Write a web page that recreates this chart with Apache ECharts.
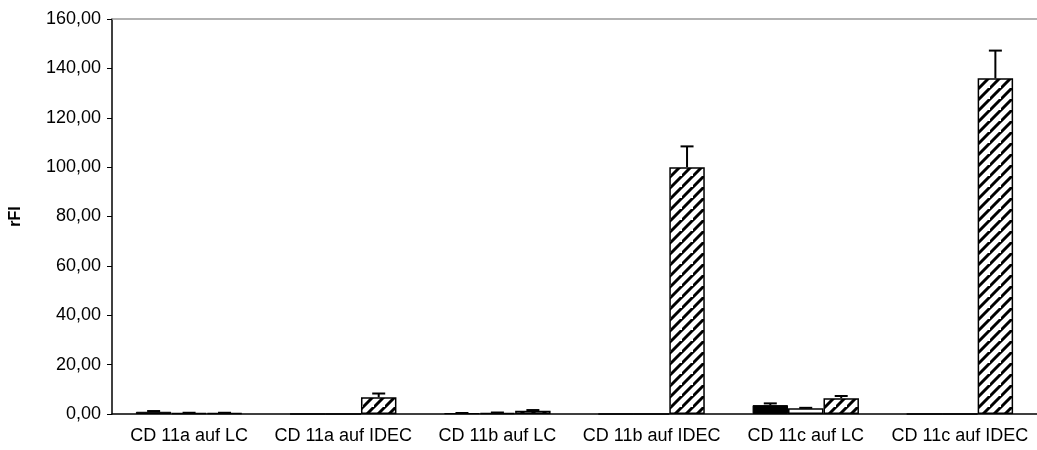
<!DOCTYPE html>
<html><head><meta charset="utf-8">
<script src="https://cdn.jsdelivr.net/npm/echarts@6/dist/echarts.min.js"></script>
<style>html,body{margin:0;padding:0;background:#fff}#c{width:1037px;height:450px}</style>
</head><body><div id="c"></div>
<script>
var categories = ['CD 11a auf LC','CD 11a auf IDEC','CD 11b auf LC','CD 11b auf IDEC','CD 11c auf LC','CD 11c auf IDEC'];
var blackVals = [0.9, 0, 0.3, 0, 3.6, 0];
var whiteVals = [0.4, 0, 0.5, 0, 2.3, 0];
var hatchVals = [0.4, 6.8, 1.3, 100, 6.4, 136];
var blackErr = [0.3, 0, 0.1, 0, 0.7, 0];
var whiteErr = [0.1, 0, 0.1, 0, 0.2, 0];
var hatchErr = [0.1, 1.5, 0.3, 8.4, 0.9, 11.2];
var yTicks = {min: 0, max: 160, interval: 20};

var tile = document.createElement('canvas');
var s = 11;
tile.width = s; tile.height = s;
var g = tile.getContext('2d');
g.fillStyle = '#fff'; g.fillRect(0,0,s,s);
g.strokeStyle = '#000'; g.lineWidth = 3;
g.beginPath();
g.moveTo(-2, s+2); g.lineTo(s+2, -2);
g.moveTo(-2-s, s+2); g.lineTo(2, -2);
g.moveTo(s-2, 2*s+2); g.lineTo(2*s+2, s-2);
g.stroke();

var BW = 0.23;
var fmt = function(v){ return v.toFixed(2).replace('.', ','); };

function errSeries(vals, errs, idx) {
  return {
    type: 'custom',
    xAxisIndex: 0,
    z: 5,
    data: vals.map(function(v,i){ return [i, v, errs[i]]; }),
    renderItem: function(params, api) {
      var v = api.value(1), e = api.value(2);
      if (!v) return null;
      var bw = api.size([1,0])[0] * BW;
      var p = api.coord([api.value(0), v]);
      var q = api.coord([api.value(0), v + e]);
      var x = p[0] + (idx - 1) * bw;
      var st = {stroke: '#000', lineWidth: 2};
      return {type: 'group', children: [
        {type: 'line', shape: {x1: x, y1: p[1], x2: x, y2: q[1]}, style: st},
        {type: 'line', shape: {x1: x - 6.5, y1: q[1], x2: x + 6.5, y2: q[1]}, style: st}
      ]};
    }
  };
}

var chart = echarts.init(document.getElementById('c'), null, {renderer: 'canvas'});
chart.setOption({
  animation: false,
  backgroundColor: '#fff',
  textStyle: {fontFamily: 'Liberation Sans, Arial, sans-serif'},
  grid: {left: 109, right: 0, top: 19, bottom: 36},
  xAxis: [{
    type: 'category', data: categories,
    axisLine: {lineStyle: {color: '#000', width: 1.5}},
    axisTick: {length: 6, lineStyle: {color: '#000'}},
    axisLabel: {color: '#000', fontSize: 18, margin: 13, interval: 0}
  }, {
    type: 'category', data: categories, position: 'top',
    axisLine: {lineStyle: {color: '#999', width: 1.5}},
    axisTick: {show: false}, axisLabel: {show: false}
  }],
  yAxis: {
    type: 'value', min: yTicks.min, max: yTicks.max, interval: yTicks.interval,
    name: 'rFI', nameLocation: 'middle', nameGap: 88, nameRotate: 90,
    nameTextStyle: {color: '#000', fontSize: 16, fontWeight: 'bold'},
    axisLine: {show: true, lineStyle: {color: '#000', width: 1.5}},
    axisTick: {show: true, length: 5, lineStyle: {color: '#000'}},
    axisLabel: {color: '#000', fontSize: 18, margin: 11, formatter: fmt},
    splitLine: {show: false}
  },
  series: [
    {type: 'bar', data: blackVals, barWidth: (BW*100)+'%', barGap: '0%',
     itemStyle: {color: '#000', borderColor: '#000', borderWidth: 1}},
    {type: 'bar', data: whiteVals, barWidth: (BW*100)+'%', barGap: '0%',
     itemStyle: {color: '#fff', borderColor: '#000', borderWidth: 1.5}},
    {type: 'bar', data: hatchVals, barWidth: (BW*100)+'%', barGap: '0%',
     itemStyle: {color: {image: tile, repeat: 'repeat'}, borderColor: '#000', borderWidth: 1.5}},
    errSeries(blackVals, blackErr, 0),
    errSeries(whiteVals, whiteErr, 1),
    errSeries(hatchVals, hatchErr, 2)
  ]
});
</script></body></html>
